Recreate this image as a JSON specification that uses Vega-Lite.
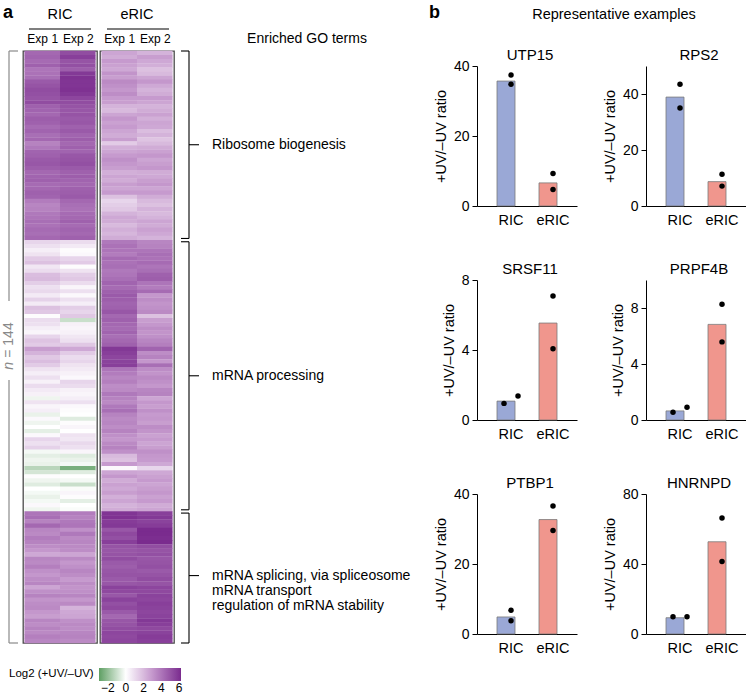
{
"$schema":"https://vega.github.io/schema/vega-lite/v6.json",
"padding":{"left":2,"top":3,"right":0,"bottom":0},
"config":{"font":"Liberation Sans","view":{"stroke":null},"title":{"fontWeight":"normal","color":"black"},"axis":{"labelColor":"black","titleColor":"black"}},
"datasets":{
"heat":[
{"i":0,"r1":4.4,"r2":5.2,"e1":2.6,"e2":2.2},{"i":1,"r1":4.5,"r2":5.6,"e1":2.4,"e2":2.8},{"i":2,"r1":4.3,"r2":5.0,"e1":2.9,"e2":2.5},{"i":3,"r1":4.6,"r2":5.1,"e1":2.7,"e2":2.3},{"i":4,"r1":4.0,"r2":4.7,"e1":2.5,"e2":1.8},{"i":5,"r1":4.1,"r2":5.8,"e1":3.1,"e2":2.0},{"i":6,"r1":4.2,"r2":6.0,"e1":2.8,"e2":2.6},{"i":7,"r1":4.8,"r2":5.9,"e1":3.4,"e2":3.0},{"i":8,"r1":5.0,"r2":5.9,"e1":3.2,"e2":2.5},{"i":9,"r1":5.2,"r2":6.0,"e1":3.0,"e2":2.2},
{"i":10,"r1":5.1,"r2":5.8,"e1":3.3,"e2":2.4},{"i":11,"r1":5.0,"r2":5.4,"e1":2.9,"e2":2.9},{"i":12,"r1":5.2,"r2":5.2,"e1":2.8,"e2":2.6},{"i":13,"r1":4.6,"r2":5.0,"e1":2.2,"e2":2.2},{"i":14,"r1":4.5,"r2":4.9,"e1":2.0,"e2":2.4},{"i":15,"r1":4.4,"r2":5.0,"e1":2.6,"e2":2.7},{"i":16,"r1":4.7,"r2":4.8,"e1":3.0,"e2":2.3},{"i":17,"r1":4.6,"r2":4.9,"e1":2.7,"e2":2.6},{"i":18,"r1":4.3,"r2":4.6,"e1":2.9,"e2":2.5},{"i":19,"r1":4.5,"r2":4.8,"e1":2.6,"e2":1.9},
{"i":20,"r1":4.2,"r2":4.5,"e1":2.4,"e2":2.2},{"i":21,"r1":4.4,"r2":4.7,"e1":2.8,"e2":1.7},{"i":22,"r1":3.6,"r2":4.4,"e1":1.5,"e2":2.0},{"i":23,"r1":3.9,"r2":4.6,"e1":2.3,"e2":2.4},{"i":24,"r1":4.5,"r2":4.5,"e1":2.6,"e2":2.7},{"i":25,"r1":4.6,"r2":4.9,"e1":2.9,"e2":3.0},{"i":26,"r1":4.8,"r2":5.0,"e1":3.2,"e2":2.6},{"i":27,"r1":4.9,"r2":5.1,"e1":3.0,"e2":2.8},{"i":28,"r1":4.7,"r2":4.8,"e1":2.8,"e2":3.0},{"i":29,"r1":4.4,"r2":4.6,"e1":2.3,"e2":2.4},
{"i":30,"r1":4.5,"r2":4.7,"e1":2.6,"e2":2.5},{"i":31,"r1":4.6,"r2":4.5,"e1":2.4,"e2":2.8},{"i":32,"r1":4.3,"r2":4.4,"e1":2.8,"e2":3.0},{"i":33,"r1":4.4,"r2":4.6,"e1":2.6,"e2":2.6},{"i":34,"r1":4.6,"r2":4.7,"e1":2.9,"e2":2.9},{"i":35,"r1":4.5,"r2":4.8,"e1":1.8,"e2":2.4},{"i":36,"r1":3.8,"r2":4.4,"e1":1.2,"e2":2.0},{"i":37,"r1":3.5,"r2":4.2,"e1":1.4,"e2":1.8},{"i":38,"r1":3.6,"r2":4.1,"e1":1.6,"e2":2.2},{"i":39,"r1":3.9,"r2":4.3,"e1":2.2,"e2":2.0},
{"i":40,"r1":4.0,"r2":4.4,"e1":2.5,"e2":2.2},{"i":41,"r1":4.2,"r2":4.6,"e1":2.4,"e2":2.6},{"i":42,"r1":4.1,"r2":4.3,"e1":2.0,"e2":2.4},{"i":43,"r1":4.3,"r2":4.5,"e1":2.3,"e2":2.7},{"i":44,"r1":4.2,"r2":4.4,"e1":2.1,"e2":2.5},{"i":45,"r1":4.4,"r2":4.6,"e1":2.4,"e2":2.2},
{"i":46,"r1":1.2,"r2":1.0,"e1":3.9,"e2":3.5},{"i":47,"r1":0.9,"r2":0.6,"e1":4.1,"e2":3.6},{"i":48,"r1":0.5,"r2":0.1,"e1":4.0,"e2":4.0},{"i":49,"r1":0.8,"r2":0.2,"e1":3.8,"e2":4.2},
{"i":50,"r1":1.5,"r2":1.2,"e1":4.3,"e2":4.1},{"i":51,"r1":1.8,"r2":1.5,"e1":4.1,"e2":4.3},{"i":52,"r1":0.7,"r2":0.1,"e1":4.2,"e2":4.0},{"i":53,"r1":1.0,"r2":0.8,"e1":3.9,"e2":4.2},{"i":54,"r1":1.9,"r2":1.4,"e1":4.0,"e2":4.6},{"i":55,"r1":2.0,"r2":1.6,"e1":4.2,"e2":4.7},{"i":56,"r1":1.4,"r2":1.0,"e1":4.5,"e2":4.0},{"i":57,"r1":0.9,"r2":0.3,"e1":4.3,"e2":3.8},{"i":58,"r1":1.1,"r2":0.9,"e1":4.6,"e2":4.3},{"i":59,"r1":0.6,"r2":0.2,"e1":4.8,"e2":3.0},
{"i":60,"r1":1.3,"r2":0.9,"e1":4.7,"e2":3.3},{"i":61,"r1":0.6,"r2":0.5,"e1":4.5,"e2":3.1},{"i":62,"r1":1.8,"r2":1.4,"e1":4.6,"e2":3.2},{"i":63,"r1":1.6,"r2":1.2,"e1":4.9,"e2":3.4},{"i":64,"r1":0.1,"r2":1.6,"e1":4.4,"e2":1.8},{"i":65,"r1":1.0,"r2":-1.0,"e1":4.6,"e2":2.8},{"i":66,"r1":0.9,"r2":0.4,"e1":4.4,"e2":3.0},{"i":67,"r1":0.5,"r2":0.3,"e1":4.3,"e2":3.3},{"i":68,"r1":0.3,"r2":0.4,"e1":4.5,"e2":3.1},{"i":69,"r1":1.2,"r2":0.7,"e1":4.2,"e2":3.2},
{"i":70,"r1":1.7,"r2":0.9,"e1":4.4,"e2":3.5},{"i":71,"r1":1.5,"r2":1.6,"e1":4.6,"e2":3.7},{"i":72,"r1":2.8,"r2":2.5,"e1":5.8,"e2":4.5},{"i":73,"r1":2.2,"r2":1.5,"e1":5.6,"e2":3.3},{"i":74,"r1":1.6,"r2":1.0,"e1":5.4,"e2":3.6},{"i":75,"r1":1.9,"r2":1.2,"e1":5.5,"e2":3.0},{"i":76,"r1":1.5,"r2":0.8,"e1":5.6,"e2":4.2},{"i":77,"r1":0.8,"r2":0.6,"e1":4.0,"e2":3.3},{"i":78,"r1":0.5,"r2":0.4,"e1":3.8,"e2":3.1},{"i":79,"r1":0.9,"r2":0.2,"e1":3.5,"e2":3.4},
{"i":80,"r1":0.4,"r2":1.2,"e1":3.7,"e2":3.2},{"i":81,"r1":1.0,"r2":1.0,"e1":3.3,"e2":3.0},{"i":82,"r1":0.6,"r2":0.4,"e1":3.4,"e2":3.5},{"i":83,"r1":0.4,"r2":0.3,"e1":3.9,"e2":3.6},{"i":84,"r1":-0.3,"r2":0.5,"e1":3.6,"e2":2.6},{"i":85,"r1":0.8,"r2":0.9,"e1":3.4,"e2":3.0},{"i":86,"r1":0.3,"r2":0.2,"e1":3.9,"e2":2.8},{"i":87,"r1":0.5,"r2":0.1,"e1":4.2,"e2":3.2},{"i":88,"r1":-0.4,"r2":0.0,"e1":3.6,"e2":2.9},{"i":89,"r1":0.2,"r2":-0.6,"e1":3.4,"e2":3.0},
{"i":90,"r1":-0.3,"r2":0.1,"e1":3.5,"e2":2.8},{"i":91,"r1":0.0,"r2":0.3,"e1":3.3,"e2":3.3},{"i":92,"r1":-0.5,"r2":0.0,"e1":3.6,"e2":3.1},{"i":93,"r1":0.2,"r2":0.8,"e1":3.2,"e2":2.7},{"i":94,"r1":1.2,"r2":0.7,"e1":3.0,"e2":2.9},{"i":95,"r1":0.9,"r2":1.1,"e1":3.4,"e2":2.6},{"i":96,"r1":1.3,"r2":0.9,"e1":3.6,"e2":2.8},{"i":97,"r1":-0.2,"r2":0.3,"e1":3.2,"e2":3.2},{"i":98,"r1":-0.5,"r2":-0.6,"e1":2.0,"e2":3.0},{"i":99,"r1":-0.3,"r2":-0.4,"e1":1.8,"e2":2.9},
{"i":100,"r1":-0.4,"r2":-0.2,"e1":2.9,"e2":2.5},{"i":101,"r1":-1.3,"r2":-2.5,"e1":0.2,"e2":1.2},{"i":102,"r1":-0.8,"r2":-0.6,"e1":2.6,"e2":2.5},{"i":103,"r1":0.1,"r2":0.0,"e1":3.0,"e2":2.7},{"i":104,"r1":-0.3,"r2":-0.2,"e1":2.4,"e2":2.9},{"i":105,"r1":-0.6,"r2":-1.0,"e1":2.7,"e2":2.6},{"i":106,"r1":0.0,"r2":-0.1,"e1":2.5,"e2":2.8},{"i":107,"r1":-0.2,"r2":0.3,"e1":2.8,"e2":3.0},{"i":108,"r1":-0.4,"r2":0.1,"e1":2.3,"e2":2.7},{"i":109,"r1":-0.2,"r2":-0.5,"e1":2.6,"e2":2.9},
{"i":110,"r1":0.2,"r2":0.0,"e1":2.2,"e2":2.4},{"i":111,"r1":-0.3,"r2":-0.1,"e1":2.4,"e2":2.6},
{"i":112,"r1":4.0,"r2":3.8,"e1":5.9,"e2":5.6},{"i":113,"r1":4.2,"r2":3.6,"e1":6.0,"e2":5.8},{"i":114,"r1":3.6,"r2":3.9,"e1":5.7,"e2":5.5},{"i":115,"r1":4.4,"r2":4.0,"e1":5.8,"e2":5.7},{"i":116,"r1":3.5,"r2":3.2,"e1":4.9,"e2":6.2},{"i":117,"r1":3.4,"r2":3.9,"e1":5.3,"e2":6.2},{"i":118,"r1":3.8,"r2":3.4,"e1":5.1,"e2":6.1},{"i":119,"r1":3.6,"r2":3.5,"e1":5.6,"e2":6.2},
{"i":120,"r1":3.3,"r2":3.4,"e1":5.0,"e2":5.2},{"i":121,"r1":3.0,"r2":3.3,"e1":4.9,"e2":5.0},{"i":122,"r1":2.5,"r2":2.6,"e1":5.0,"e2":5.1},{"i":123,"r1":3.5,"r2":3.4,"e1":5.2,"e2":4.9},{"i":124,"r1":3.4,"r2":3.0,"e1":4.8,"e2":5.0},{"i":125,"r1":3.7,"r2":3.2,"e1":4.7,"e2":5.1},{"i":126,"r1":3.2,"r2":3.5,"e1":4.9,"e2":4.8},{"i":127,"r1":3.0,"r2":3.3,"e1":5.0,"e2":5.0},{"i":128,"r1":3.3,"r2":2.9,"e1":4.8,"e2":5.2},{"i":129,"r1":3.5,"r2":3.3,"e1":4.9,"e2":5.0},
{"i":130,"r1":2.6,"r2":3.1,"e1":5.5,"e2":5.4},{"i":131,"r1":3.2,"r2":3.2,"e1":5.3,"e2":5.3},{"i":132,"r1":3.6,"r2":3.5,"e1":4.9,"e2":5.5},{"i":133,"r1":3.1,"r2":3.0,"e1":5.5,"e2":5.4},{"i":134,"r1":3.3,"r2":3.4,"e1":5.1,"e2":5.6},{"i":135,"r1":3.4,"r2":2.2,"e1":5.3,"e2":5.5},{"i":136,"r1":3.0,"r2":2.5,"e1":4.8,"e2":5.4},{"i":137,"r1":2.8,"r2":2.6,"e1":4.4,"e2":5.5},{"i":138,"r1":3.5,"r2":3.2,"e1":4.9,"e2":5.8},{"i":139,"r1":3.3,"r2":3.4,"e1":5.0,"e2":5.6},
{"i":140,"r1":3.6,"r2":3.3,"e1":5.2,"e2":5.3},{"i":141,"r1":3.4,"r2":3.5,"e1":5.4,"e2":5.5},{"i":142,"r1":3.7,"r2":3.6,"e1":5.3,"e2":5.7},{"i":143,"r1":3.5,"r2":3.4,"e1":5.4,"e2":5.6}
],
"bars":[
{"gene":"UTP15","grp":"RIC","val":35.7},{"gene":"UTP15","grp":"eRIC","val":6.6},
{"gene":"RPS2","grp":"RIC","val":38.9},{"gene":"RPS2","grp":"eRIC","val":8.7},
{"gene":"SRSF11","grp":"RIC","val":1.08},{"gene":"SRSF11","grp":"eRIC","val":5.54},
{"gene":"PRPF4B","grp":"RIC","val":0.65},{"gene":"PRPF4B","grp":"eRIC","val":6.83},
{"gene":"PTBP1","grp":"RIC","val":4.87},{"gene":"PTBP1","grp":"eRIC","val":32.7},
{"gene":"HNRNPD","grp":"RIC","val":9.3},{"gene":"HNRNPD","grp":"eRIC","val":52.7}
],
"pts":[
{"gene":"UTP15","grp":"RIC","side":"C","val":37.4},{"gene":"UTP15","grp":"RIC","side":"C","val":34.8},{"gene":"UTP15","grp":"eRIC","side":"C","val":9.3},{"gene":"UTP15","grp":"eRIC","side":"C","val":4.7},
{"gene":"RPS2","grp":"RIC","side":"C","val":43.5},{"gene":"RPS2","grp":"RIC","side":"C","val":35.0},{"gene":"RPS2","grp":"eRIC","side":"C","val":11.3},{"gene":"RPS2","grp":"eRIC","side":"C","val":7.1},
{"gene":"SRSF11","grp":"RIC","side":"L","val":0.95},{"gene":"SRSF11","grp":"RIC","side":"R","val":1.37},{"gene":"SRSF11","grp":"eRIC","side":"C","val":7.09},{"gene":"SRSF11","grp":"eRIC","side":"C","val":4.07},
{"gene":"PRPF4B","grp":"RIC","side":"L","val":0.55},{"gene":"PRPF4B","grp":"RIC","side":"R","val":0.91},{"gene":"PRPF4B","grp":"eRIC","side":"C","val":8.27},{"gene":"PRPF4B","grp":"eRIC","side":"C","val":5.58},
{"gene":"PTBP1","grp":"RIC","side":"C","val":6.77},{"gene":"PTBP1","grp":"RIC","side":"C","val":3.81},{"gene":"PTBP1","grp":"eRIC","side":"C","val":36.6},{"gene":"PTBP1","grp":"eRIC","side":"C","val":29.6},
{"gene":"HNRNPD","grp":"RIC","side":"L","val":9.9},{"gene":"HNRNPD","grp":"RIC","side":"R","val":9.9},{"gene":"HNRNPD","grp":"eRIC","side":"C","val":66.3},{"gene":"HNRNPD","grp":"eRIC","side":"C","val":41.4}
],
"brackets":[
{"term":"Ribosome biogenesis","from":0,"to":45.6,"mid":22.8},
{"term":"mRNA processing","from":46.4,"to":111.6,"mid":79.0},
{"term":"mRNA splicing, via spliceosome\nmRNA transport\nregulation of mRNA stability","from":112.4,"to":144,"mid":127.6}
],
"heads":[
{"grp":"RIC","x1":26,"x2":88,"xc":57},
{"grp":"eRIC","x1":104,"x2":166,"xc":134}
]
},
"resolve":{"scale":{"color":"independent"}},
"spacing":6,
"hconcat":[
{
"hconcat":[
{"width":17,"height":592,
"layer":[
{"data":{"values":[{"from":0,"to":60.8},{"from":80,"to":144}]},"mark":{"type":"rule","color":"#8a8a8a","strokeWidth":1.2},
"encoding":{"x":{"datum":6,"type":"quantitative","scale":{"domain":[0,17],"nice":false,"zero":false},"axis":null},"y":{"field":"from","type":"quantitative","scale":{"domain":[0,144],"reverse":true,"nice":false,"zero":false},"axis":null},"y2":{"field":"to"}}},
{"data":{"values":[{"edge":0},{"edge":144}]},"mark":{"type":"rule","color":"#8a8a8a","strokeWidth":1.2},
"encoding":{"x":{"datum":6,"type":"quantitative","axis":null},"x2":{"datum":15},"y":{"field":"edge","type":"quantitative","axis":null}}},
{"data":{"values":[{}]},"mark":{"type":"text","angle":270,"fontSize":14,"color":"#8a8a8a","align":"center","baseline":"middle"},
"encoding":{"x":{"datum":6,"type":"quantitative","axis":null},"y":{"datum":70.3,"type":"quantitative","axis":null},"text":{"value":"= 144"}}},
{"data":{"values":[{}]},"mark":{"type":"text","angle":270,"fontSize":14,"fontStyle":"italic","color":"#8a8a8a","align":"center","baseline":"middle"},
"encoding":{"x":{"datum":6,"type":"quantitative","axis":null},"y":{"datum":76.6,"type":"quantitative","axis":null},"text":{"value":"n"}}},
{"data":{"values":[{}]},"mark":{"type":"text","fontSize":18,"fontWeight":"bold","align":"left","baseline":"alphabetic","color":"black"},
"encoding":{"x":{"datum":0,"type":"quantitative","axis":null},"y":{"datum":-8.03,"type":"quantitative","axis":null},"text":{"value":"a"}}},
{"data":{"name":"heads"},"mark":{"type":"rule","color":"black","strokeWidth":1.2},
"encoding":{"x":{"field":"x1","type":"quantitative","axis":null},"x2":{"field":"x2"},"y":{"datum":-5.35,"type":"quantitative","axis":null}}},
{"data":{"name":"heads"},"mark":{"type":"text","fontSize":14.5,"align":"center","baseline":"middle","color":"black"},
"encoding":{"x":{"field":"xc","type":"quantitative","axis":null},"y":{"datum":-8.76,"type":"quantitative","axis":null},"text":{"field":"grp"}}}
]},
{"width":74,"height":592,"view":{"stroke":"#4a4a4a","strokeWidth":1.3},
"data":{"name":"heat"},
"layer":[
{"mark":{"type":"rect","height":{"band":1.1}},
"encoding":{
"x":{"datum":0,"type":"quantitative","scale":{"domain":[-0.04,2.04],"nice":false,"zero":false},"axis":{"orient":"top","values":[0.5,1.5],"labelExpr":"datum.value < 1 ? 'Exp 1' : 'Exp 2'","title":null,"ticks":false,"domain":false,"grid":false,"labelPadding":6,"labelFontSize":12}},
"x2":{"datum":1},
"y":{"field":"i","type":"ordinal","scale":{"type":"band","paddingInner":0,"paddingOuter":0},"axis":null},
"color":{"field":"r1","type":"quantitative","scale":{"domain":[-3,0,3,6.2],"range":["#5e9f63","#ffffff","#c497cc","#7a2b8e"],"interpolate":"rgb","clamp":true},
"legend":{"orient":"none","legendX":6,"legendY":617,"direction":"horizontal","title":"Log2 (+UV/–UV)","titleOrient":"left","titleFontSize":11.5,"titleFontWeight":"normal","titleColor":"black","titlePadding":5,"titleBaseline":"top","titleAnchor":"start","gradientLength":82,"gradientThickness":13,"gradientStrokeWidth":0,"labelFontSize":12,"labelColor":"black","values":[-2,0,2,4,6],"labelOverlap":false,"padding":0}}}},
{"mark":{"type":"rect","height":{"band":1.1}},
"encoding":{
"x":{"datum":1,"type":"quantitative"},
"x2":{"datum":2},
"y":{"field":"i","type":"ordinal"},
"color":{"field":"r2","type":"quantitative"}}}
]
},
{"width":74,"height":592,"view":{"stroke":"#4a4a4a","strokeWidth":1.3},
"data":{"name":"heat"},
"layer":[
{"mark":{"type":"rect","height":{"band":1.1}},
"encoding":{
"x":{"datum":0,"type":"quantitative","scale":{"domain":[-0.04,2.04],"nice":false,"zero":false},"axis":{"orient":"top","values":[0.5,1.5],"labelExpr":"datum.value < 1 ? 'Exp 1' : 'Exp 2'","title":null,"ticks":false,"domain":false,"grid":false,"labelPadding":6,"labelFontSize":12}},
"x2":{"datum":1},
"y":{"field":"i","type":"ordinal","scale":{"type":"band","paddingInner":0,"paddingOuter":0},"axis":null},
"color":{"field":"e1","type":"quantitative","scale":{"domain":[-3,0,3,6.2],"range":["#5e9f63","#ffffff","#c497cc","#7a2b8e"],"interpolate":"rgb","clamp":true},
"legend":{"orient":"none","legendX":6,"legendY":617,"direction":"horizontal","title":"Log2 (+UV/–UV)","titleOrient":"left","titleFontSize":11.5,"titleFontWeight":"normal","titleColor":"black","titlePadding":5,"titleBaseline":"top","titleAnchor":"start","gradientLength":82,"gradientThickness":13,"gradientStrokeWidth":0,"labelFontSize":12,"labelColor":"black","values":[-2,0,2,4,6],"labelOverlap":false,"padding":0}}}},
{"mark":{"type":"rect","height":{"band":1.1}},
"encoding":{
"x":{"datum":1,"type":"quantitative"},
"x2":{"datum":2},
"y":{"field":"i","type":"ordinal"},
"color":{"field":"e2","type":"quantitative"}}}
]
},
{"width":246,"height":592,
"layer":[
{"data":{"name":"brackets"},"mark":{"type":"rule","color":"black","strokeWidth":1.1},
"encoding":{"x":{"datum":12,"type":"quantitative","scale":{"domain":[0,246],"nice":false,"zero":false},"axis":null},"y":{"field":"from","type":"quantitative","scale":{"domain":[0,144],"reverse":true,"nice":false,"zero":false},"axis":null},"y2":{"field":"to"}}},
{"data":{"name":"brackets"},"mark":{"type":"rule","color":"black","strokeWidth":1.1},
"encoding":{"x":{"datum":4,"type":"quantitative","axis":null},"x2":{"datum":12},"y":{"field":"from","type":"quantitative","axis":null}}},
{"data":{"name":"brackets"},"mark":{"type":"rule","color":"black","strokeWidth":1.1},
"encoding":{"x":{"datum":4,"type":"quantitative","axis":null},"x2":{"datum":12},"y":{"field":"to","type":"quantitative","axis":null}}},
{"data":{"name":"brackets"},"mark":{"type":"rule","color":"black","strokeWidth":1.1},
"encoding":{"x":{"datum":12,"type":"quantitative","axis":null},"x2":{"datum":22},"y":{"field":"mid","type":"quantitative","axis":null}}},
{"data":{"name":"brackets"},"mark":{"type":"text","align":"left","baseline":"middle","fontSize":14,"lineBreak":"\n","lineHeight":15,"color":"black"},
"encoding":{"x":{"datum":35,"type":"quantitative","axis":null},"y":{"field":"mid","type":"quantitative","axis":null},"text":{"field":"term"}}},
{"data":{"values":[{}]},"mark":{"type":"text","align":"center","baseline":"middle","fontSize":14,"color":"black"},
"encoding":{"x":{"datum":130,"type":"quantitative","axis":null},"y":{"datum":-2.92,"type":"quantitative","axis":null},"text":{"value":"Enriched GO terms"}}}
]}
],
"spacing":3,
"bounds":"flush"
},
{
"vconcat":[
{"width":269,"height":15,
"layer":[
{"data":{"values":[{}]},"mark":{"type":"text","fontSize":18,"fontWeight":"bold","align":"left","baseline":"alphabetic","color":"black"},
"encoding":{"x":{"datum":-48,"type":"quantitative","scale":{"domain":[0,269],"nice":false,"zero":false},"axis":null},"y":{"datum":-33,"type":"quantitative","scale":{"domain":[0,15],"reverse":true,"nice":false,"zero":false},"axis":null},"text":{"value":"b"}}},
{"data":{"values":[{}]},"mark":{"type":"text","fontSize":14.5,"align":"center","baseline":"middle","color":"black"},
"encoding":{"x":{"datum":137,"type":"quantitative","axis":null},"y":{"datum":-36,"type":"quantitative","axis":null},"text":{"value":"Representative examples"}}}
]},
{
"concat":[
{"width":100,"height":140,
"layer":[
{"data":{"name":"bars"},"transform":[{"filter":"datum.gene === 'UTP15'"}],"mark":{"type":"bar","stroke":"#7a7a7a","strokeWidth":0.8},
"encoding":{"x":{"field":"grp","type":"nominal","sort":["RIC","eRIC"],"scale":{"paddingInner":0.333,"paddingOuter":0.357,"align":0.667},"axis":{"title":null,"labelAngle":0,"ticks":false,"domainColor":"black","labelFontSize":14.5,"labelPadding":7}},
"y":{"field":"val","type":"quantitative","scale":{"domain":[0,40],"nice":false},"axis":{"title":"+UV/–UV ratio","values":[0,10,20,30,40],"grid":false,"domainColor":"black","tickColor":"black","tickSize":5,"labelFontSize":14,"labelPadding":3,"titleFontSize":14.5,"titleFontWeight":"normal","titlePadding":5}},
"color":{"field":"grp","type":"nominal","scale":{"domain":["RIC","eRIC"],"range":["#9aa8d6","#f0968d"]},"legend":null}}},
{"data":{"name":"pts"},"transform":[{"filter":"datum.gene === 'UTP15'"}],"mark":{"type":"circle","size":30,"color":"black","opacity":1},
"encoding":{"x":{"field":"grp","type":"nominal","sort":["RIC","eRIC"]},"xOffset":{"field":"side","type":"nominal","scale":{"domain":["L","C","R"],"paddingInner":0,"paddingOuter":1.6}},"y":{"field":"val","type":"quantitative"}}},
{"data":{"values":[{}]},"mark":{"type":"text","fontSize":15,"align":"center","baseline":"middle","color":"black","dx":19},
"encoding":{"x":{"datum":"RIC"},"y":{"datum":43.14},"text":{"value":"UTP15"}}}
]},
{"width":100,"height":140,
"layer":[
{"data":{"name":"bars"},"transform":[{"filter":"datum.gene === 'RPS2'"}],"mark":{"type":"bar","stroke":"#7a7a7a","strokeWidth":0.8},
"encoding":{"x":{"field":"grp","type":"nominal","sort":["RIC","eRIC"],"scale":{"paddingInner":0.333,"paddingOuter":0.357,"align":0.667},"axis":{"title":null,"labelAngle":0,"ticks":false,"domainColor":"black","labelFontSize":14.5,"labelPadding":7}},
"y":{"field":"val","type":"quantitative","scale":{"domain":[0,50],"nice":false},"axis":{"title":"+UV/–UV ratio","values":[0,10,20,30,40,50],"grid":false,"domainColor":"black","tickColor":"black","tickSize":5,"labelFontSize":14,"labelPadding":3,"titleFontSize":14.5,"titleFontWeight":"normal","titlePadding":5}},
"color":{"field":"grp","type":"nominal","scale":{"domain":["RIC","eRIC"],"range":["#9aa8d6","#f0968d"]},"legend":null}}},
{"data":{"name":"pts"},"transform":[{"filter":"datum.gene === 'RPS2'"}],"mark":{"type":"circle","size":30,"color":"black","opacity":1},
"encoding":{"x":{"field":"grp","type":"nominal","sort":["RIC","eRIC"]},"xOffset":{"field":"side","type":"nominal","scale":{"domain":["L","C","R"],"paddingInner":0,"paddingOuter":1.6}},"y":{"field":"val","type":"quantitative"}}},
{"data":{"values":[{}]},"mark":{"type":"text","fontSize":15,"align":"center","baseline":"middle","color":"black","dx":19},
"encoding":{"x":{"datum":"RIC"},"y":{"datum":53.93},"text":{"value":"RPS2"}}}
]},
{"width":100,"height":140,
"layer":[
{"data":{"name":"bars"},"transform":[{"filter":"datum.gene === 'SRSF11'"}],"mark":{"type":"bar","stroke":"#7a7a7a","strokeWidth":0.8},
"encoding":{"x":{"field":"grp","type":"nominal","sort":["RIC","eRIC"],"scale":{"paddingInner":0.333,"paddingOuter":0.357,"align":0.667},"axis":{"title":null,"labelAngle":0,"ticks":false,"domainColor":"black","labelFontSize":14.5,"labelPadding":7}},
"y":{"field":"val","type":"quantitative","scale":{"domain":[0,8],"nice":false},"axis":{"title":"+UV/–UV ratio","values":[0,2,4,6,8],"grid":false,"domainColor":"black","tickColor":"black","tickSize":5,"labelFontSize":14,"labelPadding":3,"titleFontSize":14.5,"titleFontWeight":"normal","titlePadding":5}},
"color":{"field":"grp","type":"nominal","scale":{"domain":["RIC","eRIC"],"range":["#9aa8d6","#f0968d"]},"legend":null}}},
{"data":{"name":"pts"},"transform":[{"filter":"datum.gene === 'SRSF11'"}],"mark":{"type":"circle","size":30,"color":"black","opacity":1},
"encoding":{"x":{"field":"grp","type":"nominal","sort":["RIC","eRIC"]},"xOffset":{"field":"side","type":"nominal","scale":{"domain":["L","C","R"],"paddingInner":0,"paddingOuter":1.6}},"y":{"field":"val","type":"quantitative"}}},
{"data":{"values":[{}]},"mark":{"type":"text","fontSize":15,"align":"center","baseline":"middle","color":"black","dx":19},
"encoding":{"x":{"datum":"RIC"},"y":{"datum":8.63},"text":{"value":"SRSF11"}}}
]},
{"width":100,"height":140,
"layer":[
{"data":{"name":"bars"},"transform":[{"filter":"datum.gene === 'PRPF4B'"}],"mark":{"type":"bar","stroke":"#7a7a7a","strokeWidth":0.8},
"encoding":{"x":{"field":"grp","type":"nominal","sort":["RIC","eRIC"],"scale":{"paddingInner":0.333,"paddingOuter":0.357,"align":0.667},"axis":{"title":null,"labelAngle":0,"ticks":false,"domainColor":"black","labelFontSize":14.5,"labelPadding":7}},
"y":{"field":"val","type":"quantitative","scale":{"domain":[0,10],"nice":false},"axis":{"title":"+UV/–UV ratio","values":[0,2,4,6,8,10],"grid":false,"domainColor":"black","tickColor":"black","tickSize":5,"labelFontSize":14,"labelPadding":3,"titleFontSize":14.5,"titleFontWeight":"normal","titlePadding":5}},
"color":{"field":"grp","type":"nominal","scale":{"domain":["RIC","eRIC"],"range":["#9aa8d6","#f0968d"]},"legend":null}}},
{"data":{"name":"pts"},"transform":[{"filter":"datum.gene === 'PRPF4B'"}],"mark":{"type":"circle","size":30,"color":"black","opacity":1},
"encoding":{"x":{"field":"grp","type":"nominal","sort":["RIC","eRIC"]},"xOffset":{"field":"side","type":"nominal","scale":{"domain":["L","C","R"],"paddingInner":0,"paddingOuter":1.6}},"y":{"field":"val","type":"quantitative"}}},
{"data":{"values":[{}]},"mark":{"type":"text","fontSize":15,"align":"center","baseline":"middle","color":"black","dx":19},
"encoding":{"x":{"datum":"RIC"},"y":{"datum":10.79},"text":{"value":"PRPF4B"}}}
]},
{"width":100,"height":140,
"layer":[
{"data":{"name":"bars"},"transform":[{"filter":"datum.gene === 'PTBP1'"}],"mark":{"type":"bar","stroke":"#7a7a7a","strokeWidth":0.8},
"encoding":{"x":{"field":"grp","type":"nominal","sort":["RIC","eRIC"],"scale":{"paddingInner":0.333,"paddingOuter":0.357,"align":0.667},"axis":{"title":null,"labelAngle":0,"ticks":false,"domainColor":"black","labelFontSize":14.5,"labelPadding":7}},
"y":{"field":"val","type":"quantitative","scale":{"domain":[0,40],"nice":false},"axis":{"title":"+UV/–UV ratio","values":[0,10,20,30,40],"grid":false,"domainColor":"black","tickColor":"black","tickSize":5,"labelFontSize":14,"labelPadding":3,"titleFontSize":14.5,"titleFontWeight":"normal","titlePadding":5}},
"color":{"field":"grp","type":"nominal","scale":{"domain":["RIC","eRIC"],"range":["#9aa8d6","#f0968d"]},"legend":null}}},
{"data":{"name":"pts"},"transform":[{"filter":"datum.gene === 'PTBP1'"}],"mark":{"type":"circle","size":30,"color":"black","opacity":1},
"encoding":{"x":{"field":"grp","type":"nominal","sort":["RIC","eRIC"]},"xOffset":{"field":"side","type":"nominal","scale":{"domain":["L","C","R"],"paddingInner":0,"paddingOuter":1.6}},"y":{"field":"val","type":"quantitative"}}},
{"data":{"values":[{}]},"mark":{"type":"text","fontSize":15,"align":"center","baseline":"middle","color":"black","dx":19},
"encoding":{"x":{"datum":"RIC"},"y":{"datum":43.14},"text":{"value":"PTBP1"}}}
]},
{"width":100,"height":140,
"layer":[
{"data":{"name":"bars"},"transform":[{"filter":"datum.gene === 'HNRNPD'"}],"mark":{"type":"bar","stroke":"#7a7a7a","strokeWidth":0.8},
"encoding":{"x":{"field":"grp","type":"nominal","sort":["RIC","eRIC"],"scale":{"paddingInner":0.333,"paddingOuter":0.357,"align":0.667},"axis":{"title":null,"labelAngle":0,"ticks":false,"domainColor":"black","labelFontSize":14.5,"labelPadding":7}},
"y":{"field":"val","type":"quantitative","scale":{"domain":[0,80],"nice":false},"axis":{"title":"+UV/–UV ratio","values":[0,20,40,60,80],"grid":false,"domainColor":"black","tickColor":"black","tickSize":5,"labelFontSize":14,"labelPadding":3,"titleFontSize":14.5,"titleFontWeight":"normal","titlePadding":5}},
"color":{"field":"grp","type":"nominal","scale":{"domain":["RIC","eRIC"],"range":["#9aa8d6","#f0968d"]},"legend":null}}},
{"data":{"name":"pts"},"transform":[{"filter":"datum.gene === 'HNRNPD'"}],"mark":{"type":"circle","size":30,"color":"black","opacity":1},
"encoding":{"x":{"field":"grp","type":"nominal","sort":["RIC","eRIC"]},"xOffset":{"field":"side","type":"nominal","scale":{"domain":["L","C","R"],"paddingInner":0,"paddingOuter":1.6}},"y":{"field":"val","type":"quantitative"}}},
{"data":{"values":[{}]},"mark":{"type":"text","fontSize":15,"align":"center","baseline":"middle","color":"black","dx":19},
"encoding":{"x":{"datum":"RIC"},"y":{"datum":86.29},"text":{"value":"HNRNPD"}}}
]}
],
"columns":2,
"spacing":{"row":74,"column":69},
"bounds":"flush"
}
],
"spacing":0,
"bounds":"flush"
}
]
}
